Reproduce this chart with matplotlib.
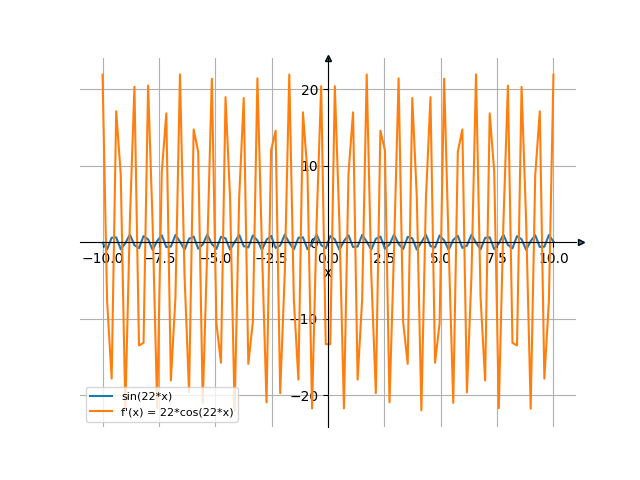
import numpy as np
import matplotlib
matplotlib.use("Agg")
import matplotlib.pyplot as plt

# sample positions (100 evenly spaced points over [-10, 10])
x = np.linspace(-10, 10, 100)

sin_vals = [
    -0.0884, -0.9371, 0.5846, 0.6276, -0.9169, -0.1421, 0.9922, -0.3833, -0.7892, 0.8012,
    0.3650, -0.9944, 0.1615, 0.9089, -0.6428, -0.5685, 0.9438, 0.0688, -0.9802, 0.4502,
    0.7419, -0.8430, -0.2955, 0.9995, -0.2338, -0.8757, 0.6975, 0.5064, -0.9656, 0.0049,
    0.9630, -0.5148, -0.6904, 0.8804, 0.2243, -0.9991, 0.3047, 0.8378, -0.7483, -0.4415,
    0.9821, -0.0785, -0.9406, 0.5765, 0.6353, -0.9129, -0.1519, 0.9933, -0.3741, -0.7953,
    0.7953, 0.3741, -0.9933, 0.1519, 0.9129, -0.6353, -0.5765, 0.9406, 0.0785, -0.9821,
    0.4415, 0.7483, -0.8378, -0.3047, 0.9991, -0.2243, -0.8804, 0.6904, 0.5148, -0.9630,
    -0.0049, 0.9656, -0.5064, -0.6975, 0.8757, 0.2338, -0.9995, 0.2955, 0.8430, -0.7419,
    -0.4502, 0.9802, -0.0688, -0.9438, 0.5685, 0.6428, -0.9089, -0.1615, 0.9944, -0.3650,
    -0.8012, 0.7892, 0.3833, -0.9922, 0.1421, 0.9169, -0.6276, -0.5846, 0.9371, 0.0884,
]

dcos_vals = [
    21.914, -7.677, -17.849, 17.128, 8.780, -21.777, 2.751, 20.320, -13.511, -13.166,
    20.482, 2.321, -21.711, 9.175, 16.853, -18.099, -7.270, 21.948, -4.351, -19.644,
    14.753, 11.832, -21.018, -0.704, 21.390, -10.622, -15.766, 18.970, 5.721, -22.000,
    5.928, 18.861, -15.915, -10.435, 21.439, -0.918, -20.954, 12.012, 14.593, -19.740,
    -4.141, 21.932, -7.472, -17.976, 16.990, 8.980, -21.745, 2.534, 20.403, -13.337,
    -13.337, 20.403, 2.534, -21.745, 8.980, 16.990, -17.976, -7.472, 21.932, -4.141,
    -19.740, 14.593, 12.012, -20.954, -0.918, 21.439, -10.435, -15.915, 18.861, 5.928,
    -22.000, 5.721, 18.970, -15.766, -10.622, 21.390, -0.704, -21.018, 11.832, 14.753,
    -19.644, -4.351, 21.948, -7.270, -18.099, 16.853, 9.175, -21.711, 2.321, 20.482,
    -13.166, -13.511, 20.320, 2.751, -21.777, 8.780, 17.128, -17.849, -7.677, 21.914,
]

labels = ["sin(22*x)", "f'(x) = 22*cos(22*x)"]

fig, ax = plt.subplots(figsize=(6.4, 4.8), dpi=100)
ax.plot(x, sin_vals, label=labels[0])
ax.plot(x, dcos_vals, label=labels[1])

ax.spines['left'].set_position('zero')
ax.spines['bottom'].set_position('zero')
ax.spines['right'].set_color('none')
ax.spines['top'].set_color('none')
ax.xaxis.set_ticks_position('bottom')
ax.yaxis.set_ticks_position('left')

# arrow heads at the axis ends
ax.plot(1.01, 0, ">", color="C0", mec="k", ms=5, transform=ax.get_yaxis_transform(), clip_on=False)
ax.plot(0, 1.0, "^", color="C0", mec="k", ms=5, transform=ax.get_xaxis_transform(), clip_on=False)

ax.grid(True)
ax.set_xlabel("x", labelpad=0)
ax.legend(loc="lower left", fontsize=8)

plt.savefig("out.png")
